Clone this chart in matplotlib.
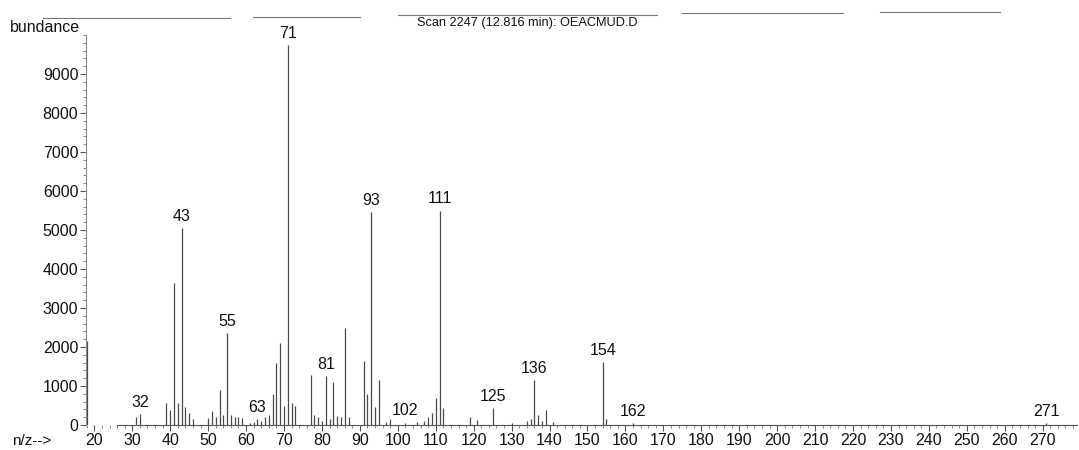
import matplotlib
matplotlib.use('Agg')
import matplotlib.pyplot as plt
from matplotlib.ticker import MultipleLocator
from matplotlib.lines import Line2D

# mass spectrum, scan 2247
mz = [18, 31, 32, 39, 40, 41, 42, 43, 44, 45, 46,
      50, 51, 52, 53, 54, 55, 56, 57, 58, 59,
      61, 62, 63, 64, 65, 66, 67, 68, 69, 70, 71, 72, 73,
      77, 78, 79, 80, 81, 82, 83, 84, 85, 86, 87,
      91, 92, 93, 94, 95, 97, 98, 102, 105, 107, 108, 109, 110, 111, 112,
      119, 121, 125, 130, 134, 135, 136, 137, 138, 139, 141,
      154, 155, 162, 271]
abundance = [2150, 200, 280, 560, 380, 3650, 560, 5050, 450, 300, 150,
             180, 360, 200, 900, 260, 2350, 250, 200, 200, 180,
             60, 80, 150, 100, 200, 250, 800, 1600, 2100, 500, 9750, 560, 500,
             1280, 250, 200, 100, 1250, 150, 1100, 230, 200, 2480, 200,
             1650, 800, 5450, 460, 1150, 80, 150, 60, 80, 100, 200, 300, 700, 5500, 430,
             200, 120, 430, 60, 100, 150, 1150, 250, 100, 380, 80,
             1610, 150, 50, 40]
labelled_mz = [32, 43, 55, 63, 71, 81, 93, 102, 111, 125, 136, 154, 162, 271]
x_ticks = list(range(20, 280, 10))
y_ticks = list(range(0, 10000, 1000))

title = "Scan 2247 (12.816 min): OEACMUD.D"

plt.rcParams['font.family'] = ['Liberation Sans', 'DejaVu Sans']

W, H = 1079, 450
fig = plt.figure(figsize=(W / 100, H / 100), dpi=100)
ax = fig.add_axes([86 / W, 25 / H, 1 - 86 / W - 0.002, (425 - 35) / H])

ax.vlines(mz, 0, abundance, color='#4a4a4a', linewidth=0.9)

# peak labels sit just above the peak
heights = dict(zip(mz, abundance))
for m in labelled_mz:
    ax.annotate(str(m), (m, heights[m]), xytext=(0, 3), textcoords='offset points',
                ha='center', va='bottom', fontsize=11.5, color='#111111')

ax.set_xlim(17.8, 279)
ax.set_ylim(0, 10000)
ax.set_xticks(x_ticks)
ax.set_yticks(y_ticks)
ax.xaxis.set_minor_locator(MultipleLocator(2))
ax.yaxis.set_minor_locator(MultipleLocator(200))
ax.tick_params(axis='both', which='major', labelsize=11.5, length=4, width=0.8,
               color='#555555', labelcolor='#111111', pad=1.5)
ax.tick_params(axis='both', which='minor', length=2, width=0.6, color='#777777')

for side in ['top', 'right']:
    ax.spines[side].set_visible(False)
ax.spines['left'].set_color('#8a8a8a')
ax.spines['left'].set_linewidth(0.8)
ax.spines['bottom'].set_color('#555555')
ax.spines['bottom'].set_linewidth(0.8)
ax.spines['bottom'].set_bounds(26, 279)

fig.text(417 / W, 1 - 23 / H, title, ha='left', va='center', fontsize=9.2, color='#111111')
fig.text(10 / W, 1 - 27 / H, 'bundance', ha='left', va='center', fontsize=11.5, color='#111111')
fig.text(12 / W, 1 - 441 / H, 'n/z-->', ha='left', va='center', fontsize=11, color='#111111')

# page edge lines left by the scanner along the top
for x0, x1, y in [(43, 230, 18), (253, 360, 17), (398, 657, 15), (682, 843, 13), (880, 1000, 12)]:
    fig.add_artist(Line2D([x0 / W, x1 / W], [1 - y / H, 1 - y / H], color='#777777', linewidth=0.8))

fig.savefig('out.png', dpi=100)
